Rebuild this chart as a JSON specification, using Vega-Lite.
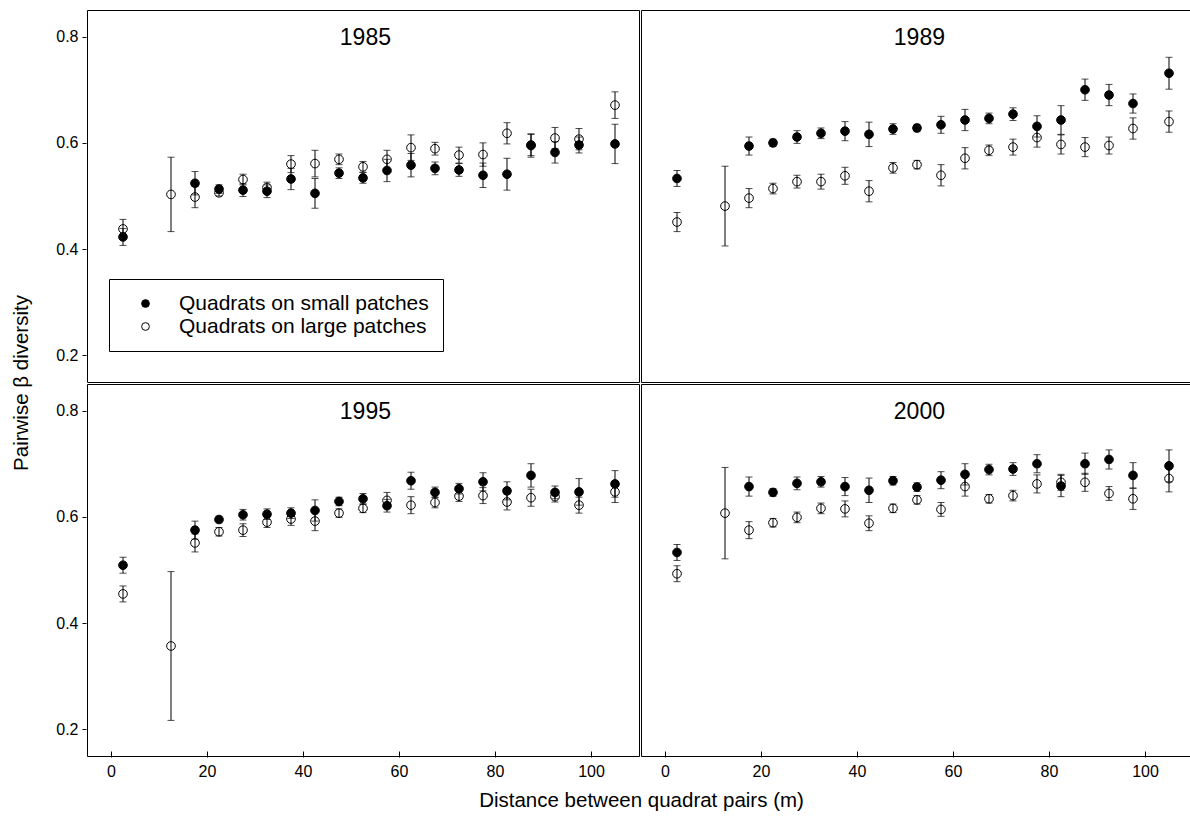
{
  "$schema": "https://vega.github.io/schema/vega-lite/v6.json",
  "padding": {"left": 11, "top": 9, "right": 0, "bottom": 0},
  "data": {"values": [
    {"year":"1985","x":2.5,"g":"large","y":0.438,"lo":0.420,"hi":0.456},
    {"year":"1985","x":12.5,"g":"large","y":0.503,"lo":0.433,"hi":0.573},
    {"year":"1985","x":17.5,"g":"large","y":0.498,"lo":0.478,"hi":0.518},
    {"year":"1985","x":22.5,"g":"large","y":0.506,"lo":0.500,"hi":0.512},
    {"year":"1985","x":27.5,"g":"large","y":0.531,"lo":0.521,"hi":0.541},
    {"year":"1985","x":32.5,"g":"large","y":0.516,"lo":0.506,"hi":0.526},
    {"year":"1985","x":37.5,"g":"large","y":0.560,"lo":0.544,"hi":0.576},
    {"year":"1985","x":42.5,"g":"large","y":0.561,"lo":0.536,"hi":0.586},
    {"year":"1985","x":47.5,"g":"large","y":0.569,"lo":0.559,"hi":0.579},
    {"year":"1985","x":52.5,"g":"large","y":0.555,"lo":0.545,"hi":0.565},
    {"year":"1985","x":57.5,"g":"large","y":0.569,"lo":0.552,"hi":0.586},
    {"year":"1985","x":62.5,"g":"large","y":0.591,"lo":0.567,"hi":0.615},
    {"year":"1985","x":67.5,"g":"large","y":0.589,"lo":0.577,"hi":0.601},
    {"year":"1985","x":72.5,"g":"large","y":0.577,"lo":0.562,"hi":0.592},
    {"year":"1985","x":77.5,"g":"large","y":0.578,"lo":0.556,"hi":0.600},
    {"year":"1985","x":82.5,"g":"large","y":0.618,"lo":0.598,"hi":0.638},
    {"year":"1985","x":87.5,"g":"large","y":0.596,"lo":0.576,"hi":0.616},
    {"year":"1985","x":92.5,"g":"large","y":0.609,"lo":0.589,"hi":0.629},
    {"year":"1985","x":97.5,"g":"large","y":0.607,"lo":0.587,"hi":0.627},
    {"year":"1985","x":105,"g":"large","y":0.671,"lo":0.646,"hi":0.696},
    {"year":"1985","x":2.5,"g":"small","y":0.423,"lo":0.407,"hi":0.439},
    {"year":"1985","x":17.5,"g":"small","y":0.524,"lo":0.502,"hi":0.546},
    {"year":"1985","x":22.5,"g":"small","y":0.513,"lo":0.505,"hi":0.521},
    {"year":"1985","x":27.5,"g":"small","y":0.511,"lo":0.499,"hi":0.523},
    {"year":"1985","x":32.5,"g":"small","y":0.509,"lo":0.497,"hi":0.521},
    {"year":"1985","x":37.5,"g":"small","y":0.532,"lo":0.512,"hi":0.552},
    {"year":"1985","x":42.5,"g":"small","y":0.505,"lo":0.477,"hi":0.533},
    {"year":"1985","x":47.5,"g":"small","y":0.543,"lo":0.533,"hi":0.553},
    {"year":"1985","x":52.5,"g":"small","y":0.534,"lo":0.524,"hi":0.544},
    {"year":"1985","x":57.5,"g":"small","y":0.548,"lo":0.527,"hi":0.569},
    {"year":"1985","x":62.5,"g":"small","y":0.558,"lo":0.536,"hi":0.580},
    {"year":"1985","x":67.5,"g":"small","y":0.552,"lo":0.540,"hi":0.564},
    {"year":"1985","x":72.5,"g":"small","y":0.549,"lo":0.537,"hi":0.561},
    {"year":"1985","x":77.5,"g":"small","y":0.539,"lo":0.516,"hi":0.562},
    {"year":"1985","x":82.5,"g":"small","y":0.541,"lo":0.511,"hi":0.571},
    {"year":"1985","x":87.5,"g":"small","y":0.595,"lo":0.573,"hi":0.617},
    {"year":"1985","x":92.5,"g":"small","y":0.582,"lo":0.562,"hi":0.602},
    {"year":"1985","x":97.5,"g":"small","y":0.596,"lo":0.581,"hi":0.611},
    {"year":"1985","x":105,"g":"small","y":0.598,"lo":0.561,"hi":0.635},
    {"year":"1989","x":2.5,"g":"large","y":0.451,"lo":0.433,"hi":0.469},
    {"year":"1989","x":12.5,"g":"large","y":0.481,"lo":0.406,"hi":0.556},
    {"year":"1989","x":17.5,"g":"large","y":0.496,"lo":0.478,"hi":0.514},
    {"year":"1989","x":22.5,"g":"large","y":0.514,"lo":0.504,"hi":0.524},
    {"year":"1989","x":27.5,"g":"large","y":0.527,"lo":0.515,"hi":0.539},
    {"year":"1989","x":32.5,"g":"large","y":0.527,"lo":0.513,"hi":0.541},
    {"year":"1989","x":37.5,"g":"large","y":0.538,"lo":0.522,"hi":0.554},
    {"year":"1989","x":42.5,"g":"large","y":0.509,"lo":0.489,"hi":0.529},
    {"year":"1989","x":47.5,"g":"large","y":0.553,"lo":0.543,"hi":0.563},
    {"year":"1989","x":52.5,"g":"large","y":0.559,"lo":0.551,"hi":0.567},
    {"year":"1989","x":57.5,"g":"large","y":0.539,"lo":0.519,"hi":0.559},
    {"year":"1989","x":62.5,"g":"large","y":0.571,"lo":0.551,"hi":0.591},
    {"year":"1989","x":67.5,"g":"large","y":0.586,"lo":0.576,"hi":0.596},
    {"year":"1989","x":72.5,"g":"large","y":0.592,"lo":0.577,"hi":0.607},
    {"year":"1989","x":77.5,"g":"large","y":0.610,"lo":0.592,"hi":0.628},
    {"year":"1989","x":82.5,"g":"large","y":0.597,"lo":0.579,"hi":0.615},
    {"year":"1989","x":87.5,"g":"large","y":0.592,"lo":0.574,"hi":0.610},
    {"year":"1989","x":92.5,"g":"large","y":0.595,"lo":0.579,"hi":0.611},
    {"year":"1989","x":97.5,"g":"large","y":0.627,"lo":0.607,"hi":0.647},
    {"year":"1989","x":105,"g":"large","y":0.640,"lo":0.620,"hi":0.660},
    {"year":"1989","x":2.5,"g":"small","y":0.533,"lo":0.518,"hi":0.548},
    {"year":"1989","x":17.5,"g":"small","y":0.594,"lo":0.577,"hi":0.611},
    {"year":"1989","x":22.5,"g":"small","y":0.600,"lo":0.593,"hi":0.607},
    {"year":"1989","x":27.5,"g":"small","y":0.611,"lo":0.599,"hi":0.623},
    {"year":"1989","x":32.5,"g":"small","y":0.618,"lo":0.608,"hi":0.628},
    {"year":"1989","x":37.5,"g":"small","y":0.622,"lo":0.604,"hi":0.640},
    {"year":"1989","x":42.5,"g":"small","y":0.616,"lo":0.593,"hi":0.639},
    {"year":"1989","x":47.5,"g":"small","y":0.626,"lo":0.616,"hi":0.636},
    {"year":"1989","x":52.5,"g":"small","y":0.628,"lo":0.621,"hi":0.635},
    {"year":"1989","x":57.5,"g":"small","y":0.634,"lo":0.618,"hi":0.650},
    {"year":"1989","x":62.5,"g":"small","y":0.643,"lo":0.623,"hi":0.663},
    {"year":"1989","x":67.5,"g":"small","y":0.646,"lo":0.636,"hi":0.656},
    {"year":"1989","x":72.5,"g":"small","y":0.654,"lo":0.642,"hi":0.666},
    {"year":"1989","x":77.5,"g":"small","y":0.631,"lo":0.611,"hi":0.651},
    {"year":"1989","x":82.5,"g":"small","y":0.643,"lo":0.616,"hi":0.670},
    {"year":"1989","x":87.5,"g":"small","y":0.700,"lo":0.680,"hi":0.720},
    {"year":"1989","x":92.5,"g":"small","y":0.690,"lo":0.670,"hi":0.710},
    {"year":"1989","x":97.5,"g":"small","y":0.674,"lo":0.656,"hi":0.692},
    {"year":"1989","x":105,"g":"small","y":0.731,"lo":0.701,"hi":0.761},
    {"year":"1995","x":2.5,"g":"large","y":0.455,"lo":0.440,"hi":0.470},
    {"year":"1995","x":12.5,"g":"large","y":0.357,"lo":0.217,"hi":0.497},
    {"year":"1995","x":17.5,"g":"large","y":0.551,"lo":0.534,"hi":0.568},
    {"year":"1995","x":22.5,"g":"large","y":0.572,"lo":0.564,"hi":0.580},
    {"year":"1995","x":27.5,"g":"large","y":0.575,"lo":0.563,"hi":0.587},
    {"year":"1995","x":32.5,"g":"large","y":0.590,"lo":0.580,"hi":0.600},
    {"year":"1995","x":37.5,"g":"large","y":0.596,"lo":0.584,"hi":0.608},
    {"year":"1995","x":42.5,"g":"large","y":0.592,"lo":0.574,"hi":0.610},
    {"year":"1995","x":47.5,"g":"large","y":0.607,"lo":0.599,"hi":0.615},
    {"year":"1995","x":52.5,"g":"large","y":0.616,"lo":0.608,"hi":0.624},
    {"year":"1995","x":57.5,"g":"large","y":0.631,"lo":0.616,"hi":0.646},
    {"year":"1995","x":62.5,"g":"large","y":0.622,"lo":0.606,"hi":0.638},
    {"year":"1995","x":67.5,"g":"large","y":0.627,"lo":0.617,"hi":0.637},
    {"year":"1995","x":72.5,"g":"large","y":0.639,"lo":0.629,"hi":0.649},
    {"year":"1995","x":77.5,"g":"large","y":0.640,"lo":0.625,"hi":0.655},
    {"year":"1995","x":82.5,"g":"large","y":0.628,"lo":0.613,"hi":0.643},
    {"year":"1995","x":87.5,"g":"large","y":0.636,"lo":0.620,"hi":0.652},
    {"year":"1995","x":92.5,"g":"large","y":0.638,"lo":0.628,"hi":0.648},
    {"year":"1995","x":97.5,"g":"large","y":0.622,"lo":0.607,"hi":0.637},
    {"year":"1995","x":105,"g":"large","y":0.647,"lo":0.627,"hi":0.667},
    {"year":"1995","x":2.5,"g":"small","y":0.509,"lo":0.494,"hi":0.524},
    {"year":"1995","x":17.5,"g":"small","y":0.575,"lo":0.558,"hi":0.592},
    {"year":"1995","x":22.5,"g":"small","y":0.595,"lo":0.589,"hi":0.601},
    {"year":"1995","x":27.5,"g":"small","y":0.604,"lo":0.594,"hi":0.614},
    {"year":"1995","x":32.5,"g":"small","y":0.605,"lo":0.595,"hi":0.615},
    {"year":"1995","x":37.5,"g":"small","y":0.607,"lo":0.597,"hi":0.617},
    {"year":"1995","x":42.5,"g":"small","y":0.612,"lo":0.592,"hi":0.632},
    {"year":"1995","x":47.5,"g":"small","y":0.629,"lo":0.621,"hi":0.637},
    {"year":"1995","x":52.5,"g":"small","y":0.634,"lo":0.624,"hi":0.644},
    {"year":"1995","x":57.5,"g":"small","y":0.621,"lo":0.609,"hi":0.633},
    {"year":"1995","x":62.5,"g":"small","y":0.668,"lo":0.652,"hi":0.684},
    {"year":"1995","x":67.5,"g":"small","y":0.646,"lo":0.636,"hi":0.656},
    {"year":"1995","x":72.5,"g":"small","y":0.653,"lo":0.643,"hi":0.663},
    {"year":"1995","x":77.5,"g":"small","y":0.666,"lo":0.649,"hi":0.683},
    {"year":"1995","x":82.5,"g":"small","y":0.649,"lo":0.632,"hi":0.666},
    {"year":"1995","x":87.5,"g":"small","y":0.678,"lo":0.656,"hi":0.700},
    {"year":"1995","x":92.5,"g":"small","y":0.646,"lo":0.634,"hi":0.658},
    {"year":"1995","x":97.5,"g":"small","y":0.647,"lo":0.622,"hi":0.672},
    {"year":"1995","x":105,"g":"small","y":0.662,"lo":0.637,"hi":0.687},
    {"year":"2000","x":2.5,"g":"large","y":0.493,"lo":0.478,"hi":0.508},
    {"year":"2000","x":12.5,"g":"large","y":0.607,"lo":0.521,"hi":0.693},
    {"year":"2000","x":17.5,"g":"large","y":0.575,"lo":0.559,"hi":0.591},
    {"year":"2000","x":22.5,"g":"large","y":0.589,"lo":0.581,"hi":0.597},
    {"year":"2000","x":27.5,"g":"large","y":0.599,"lo":0.589,"hi":0.609},
    {"year":"2000","x":32.5,"g":"large","y":0.616,"lo":0.606,"hi":0.626},
    {"year":"2000","x":37.5,"g":"large","y":0.615,"lo":0.600,"hi":0.630},
    {"year":"2000","x":42.5,"g":"large","y":0.588,"lo":0.574,"hi":0.602},
    {"year":"2000","x":47.5,"g":"large","y":0.616,"lo":0.608,"hi":0.624},
    {"year":"2000","x":52.5,"g":"large","y":0.632,"lo":0.624,"hi":0.640},
    {"year":"2000","x":57.5,"g":"large","y":0.614,"lo":0.601,"hi":0.627},
    {"year":"2000","x":62.5,"g":"large","y":0.657,"lo":0.639,"hi":0.675},
    {"year":"2000","x":67.5,"g":"large","y":0.634,"lo":0.626,"hi":0.642},
    {"year":"2000","x":72.5,"g":"large","y":0.640,"lo":0.630,"hi":0.650},
    {"year":"2000","x":77.5,"g":"large","y":0.662,"lo":0.645,"hi":0.679},
    {"year":"2000","x":82.5,"g":"large","y":0.665,"lo":0.650,"hi":0.680},
    {"year":"2000","x":87.5,"g":"large","y":0.665,"lo":0.648,"hi":0.682},
    {"year":"2000","x":92.5,"g":"large","y":0.644,"lo":0.631,"hi":0.657},
    {"year":"2000","x":97.5,"g":"large","y":0.634,"lo":0.614,"hi":0.654},
    {"year":"2000","x":105,"g":"large","y":0.672,"lo":0.647,"hi":0.697},
    {"year":"2000","x":2.5,"g":"small","y":0.533,"lo":0.518,"hi":0.548},
    {"year":"2000","x":17.5,"g":"small","y":0.657,"lo":0.639,"hi":0.675},
    {"year":"2000","x":22.5,"g":"small","y":0.646,"lo":0.639,"hi":0.653},
    {"year":"2000","x":27.5,"g":"small","y":0.663,"lo":0.651,"hi":0.675},
    {"year":"2000","x":32.5,"g":"small","y":0.666,"lo":0.656,"hi":0.676},
    {"year":"2000","x":37.5,"g":"small","y":0.657,"lo":0.640,"hi":0.674},
    {"year":"2000","x":42.5,"g":"small","y":0.650,"lo":0.627,"hi":0.673},
    {"year":"2000","x":47.5,"g":"small","y":0.668,"lo":0.660,"hi":0.676},
    {"year":"2000","x":52.5,"g":"small","y":0.656,"lo":0.648,"hi":0.664},
    {"year":"2000","x":57.5,"g":"small","y":0.669,"lo":0.653,"hi":0.685},
    {"year":"2000","x":62.5,"g":"small","y":0.680,"lo":0.660,"hi":0.700},
    {"year":"2000","x":67.5,"g":"small","y":0.689,"lo":0.679,"hi":0.699},
    {"year":"2000","x":72.5,"g":"small","y":0.690,"lo":0.678,"hi":0.702},
    {"year":"2000","x":77.5,"g":"small","y":0.700,"lo":0.683,"hi":0.717},
    {"year":"2000","x":82.5,"g":"small","y":0.658,"lo":0.638,"hi":0.678},
    {"year":"2000","x":87.5,"g":"small","y":0.700,"lo":0.680,"hi":0.720},
    {"year":"2000","x":92.5,"g":"small","y":0.708,"lo":0.690,"hi":0.726},
    {"year":"2000","x":97.5,"g":"small","y":0.678,"lo":0.654,"hi":0.702},
    {"year":"2000","x":105,"g":"small","y":0.696,"lo":0.666,"hi":0.726}
  ]},
  "facet": {
    "field": "year",
    "type": "nominal",
    "header": {
      "labels": false,
      "labelExpr": "''",
      "labelFontSize": 0,
      "labelPadding": 0,
      "title": "Pairwise β diversity",
      "titleOrient": "left",
      "titleAngle": -90,
      "titleFontSize": 20.5,
      "titleFontWeight": "normal",
      "titleFont": "Liberation Sans",
      "titleColor": "black",
      "titlePadding": 3
    }
  },
  "columns": 2,
  "spacing": 0,
  "title": {
    "text": "Distance between quadrat pairs (m)",
    "orient": "bottom",
    "anchor": "middle",
    "fontSize": 20.5,
    "fontWeight": "normal",
    "font": "Liberation Sans",
    "color": "black",
    "offset": 12,
    "dx": 39
  },
  "spec": {
    "width": 552,
    "height": 372,
    "layer": [
      {
        "mark": {"type": "errorbar", "color": "black", "thickness": 1, "ticks": {"size": 7, "thickness": 1, "color": "black"}, "rule": {"strokeWidth": 1, "color": "black"}},
        "encoding": {
          "x": {"field": "x", "type": "quantitative", "scale": {"domain": [-5, 110], "nice": false},
                "axis": {"values": [0, 20, 40, 60, 80, 100], "title": null, "tickSize": -6, "labelPadding": 12, "domain": false, "grid": false, "labelFontSize": 16, "labelColor": "black", "tickColor": "black"}},
          "y": {"field": "lo", "type": "quantitative", "scale": {"domain": [0.15, 0.85], "nice": false, "zero": false},
                "axis": {"values": [0.2, 0.4, 0.6, 0.8], "format": ".1f", "title": null, "tickSize": 4, "labelPadding": 4, "domain": false, "grid": false, "labelFontSize": 16, "labelColor": "black", "tickColor": "black"}},
          "y2": {"field": "hi"}
        }
      },
      {
        "mark": {"type": "point", "shape": "circle", "filled": true, "size": 75, "stroke": "black", "strokeWidth": 1, "opacity": 1},
        "encoding": {
          "x": {"field": "x", "type": "quantitative",
                "axis": {"values": [0, 20, 40, 60, 80, 100], "title": null, "tickSize": -6, "labelPadding": 12, "domain": false, "grid": false, "labelFontSize": 16, "labelColor": "black", "tickColor": "black"}},
          "y": {"field": "y", "type": "quantitative",
                "axis": {"values": [0.2, 0.4, 0.6, 0.8], "format": ".1f", "title": null, "tickSize": 4, "labelPadding": 4, "domain": false, "grid": false, "labelFontSize": 16, "labelColor": "black", "tickColor": "black"}},
          "fill": {
            "field": "g",
            "type": "nominal",
            "scale": {"domain": ["small", "large"], "range": ["black", "transparent"]},
            "legend": {
              "title": null,
              "orient": "none",
              "legendX": 22,
              "legendY": 269,
              "padding": 14,
              "strokeColor": "black",
              "fillColor": "white",
              "labelFont": "Liberation Sans",
              "labelFontSize": 21,
              "labelColor": "black",
              "labelLimit": 500,
              "labelOffset": 23,
              "symbolType": "circle",
              "symbolSize": 60,
              "symbolStrokeColor": "black",
              "symbolStrokeWidth": 1,
              "symbolOffset": 12,
              "rowPadding": 1,
              "labelExpr": "datum.label == 'small' ? 'Quadrats on small patches\u00a0\u00a0\u00a0\u00a0' : 'Quadrats on large patches\u00a0\u00a0\u00a0\u00a0'"
            }
          }
        }
      },
      {
        "transform": [{"aggregate": [{"op": "count", "as": "n"}], "groupby": ["year"]}],
        "mark": {"type": "text", "fontSize": 23, "font": "Liberation Sans", "color": "black", "baseline": "middle", "align": "center"},
        "encoding": {
          "x": {"datum": 53},
          "y": {"datum": 0.797},
          "text": {"field": "year", "type": "nominal"}
        }
      }
    ]
  },
  "config": {
    "font": "Liberation Sans",
    "background": "white",
    "view": {"stroke": "black", "strokeWidth": 1}
  }
}
